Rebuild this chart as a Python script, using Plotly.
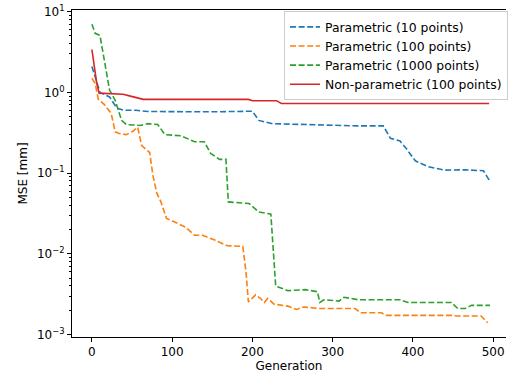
import plotly.graph_objects as go

# ---- data ----
gen_p10 = [0, 6, 10, 22, 31, 40, 55, 70, 100, 150, 200, 205, 208, 225, 258, 330, 363, 372, 384, 392, 403, 419, 440, 465, 488, 495]
mse_p10 = [2.1, 1.3, 1.0, 0.88, 0.64, 0.6, 0.6, 0.58, 0.575, 0.575, 0.585, 0.5, 0.45, 0.41, 0.40, 0.385, 0.385, 0.27, 0.25, 0.2, 0.142, 0.12, 0.109, 0.11, 0.107, 0.082]

gen_p100 = [0, 4, 8, 16, 24, 29, 34, 43, 51, 57, 62, 72, 76, 81, 86, 93, 107, 117, 128, 138, 153, 169, 188, 192, 195, 204, 210, 215, 219, 227, 244, 255, 264, 283, 328, 335, 361, 366, 448, 454, 485, 493]
mse_p100 = [1.5, 1.3, 0.82, 0.7, 0.55, 0.325, 0.31, 0.30, 0.33, 0.37, 0.22, 0.18, 0.094, 0.056, 0.044, 0.0275, 0.0238, 0.0213, 0.017, 0.017, 0.0148, 0.0126, 0.0124, 0.006, 0.00254, 0.0031, 0.0028, 0.0025, 0.0028, 0.00238, 0.00225, 0.00205, 0.0022, 0.0021, 0.0021, 0.00186, 0.00186, 0.00173, 0.00173, 0.0017, 0.0017, 0.0014]

gen_p1000 = [0, 4, 10, 22, 29, 37, 43, 60, 70, 82, 91, 111, 122, 128, 140, 148, 159, 167, 170, 196, 208, 223, 229, 244, 266, 281, 284, 289, 308, 314, 332, 384, 394, 448, 456, 465, 473, 496]
mse_p1000 = [7.0, 5.4, 5.1, 1.07, 0.8, 0.45, 0.4, 0.39, 0.41, 0.40, 0.30, 0.29, 0.26, 0.245, 0.245, 0.175, 0.148, 0.148, 0.044, 0.042, 0.033, 0.031, 0.004, 0.0035, 0.0036, 0.0034, 0.0025, 0.0027, 0.0026, 0.0029, 0.0027, 0.0027, 0.0025, 0.0025, 0.0021, 0.0021, 0.0023, 0.0023]

gen_np = [0, 3, 6, 9, 20, 39, 48, 55, 64, 195, 200, 230, 236, 495]
mse_np = [3.4, 2.0, 1.3, 0.98, 0.97, 0.95, 0.9, 0.87, 0.82, 0.82, 0.79, 0.79, 0.73, 0.73]

series_names = ["Parametric (10 points)", "Parametric (100 points)", "Parametric (1000 points)", "Non-parametric (100 points)"]
y_tick_vals = [1e-3, 1e-2, 1e-1, 1, 10]
y_tick_text = ["10<sup>−3</sup>", "10<sup>−2</sup>", "10<sup>−1</sup>", "10<sup>0</sup>", "10<sup>1</sup>"]
x_tick_vals = [0, 100, 200, 300, 400, 500]

colors = ["#1f77b4", "#ff7f0e", "#2ca02c", "#d62728"]
dashes = ["6px,2.6px", "6px,2.6px", "6px,2.6px", "solid"]

fig = go.Figure()
for gx, gy, name, c, d in zip([gen_p10, gen_p100, gen_p1000, gen_np],
                              [mse_p10, mse_p100, mse_p1000, mse_np],
                              series_names, colors, dashes):
    fig.add_trace(go.Scatter(x=gx, y=gy, mode="lines", name=name,
                             line=dict(color=c, width=1.6, dash=d)))

minor_vals = [m * 10 ** e for e in range(-3, 1) for m in range(2, 10)]

font = dict(family="DejaVu Sans", size=12, color="black")
legend_font = dict(family="DejaVu Sans", size=12.4, color="black")
fig.update_layout(
    width=508, height=376,
    margin=dict(l=72, r=0, t=10, b=39),
    paper_bgcolor="white", plot_bgcolor="white",
    font=font,
    showlegend=True,
    legend=dict(x=0.489, y=0.996, xanchor="left", yanchor="top",
                bgcolor="rgba(255,255,255,0.8)", bordercolor="#cccccc", borderwidth=1,
                font=legend_font, itemwidth=30, tracegroupgap=0),
    xaxis=dict(range=[-24.8, 516], tickvals=x_tick_vals, ticks="outside", ticklen=4,
               tickwidth=0.9, tickcolor="black", showline=True, linecolor="black",
               linewidth=1, mirror=True, showgrid=False, zeroline=False,
               title=dict(text="Generation", standoff=3, font=font)),
    yaxis=dict(type="log", range=[-3.03, 1.021], tickvals=y_tick_vals, ticktext=y_tick_text,
               ticks="outside", ticklen=4, tickwidth=0.9, tickcolor="black",
               showline=True, linecolor="black", linewidth=1, mirror=False,
               showgrid=False, zeroline=False,
               minor=dict(tickvals=minor_vals, ticks="outside", ticklen=2, tickwidth=0.7,
                          tickcolor="black", showgrid=False),
               title=dict(text="MSE [mm]", standoff=6, font=font)),
)

# remove the page's default 8px body margin so the figure sits at the window's corner
fig.write_html("out.html", config={"displayModeBar": False},
               post_script="document.body.style.margin='0';")
